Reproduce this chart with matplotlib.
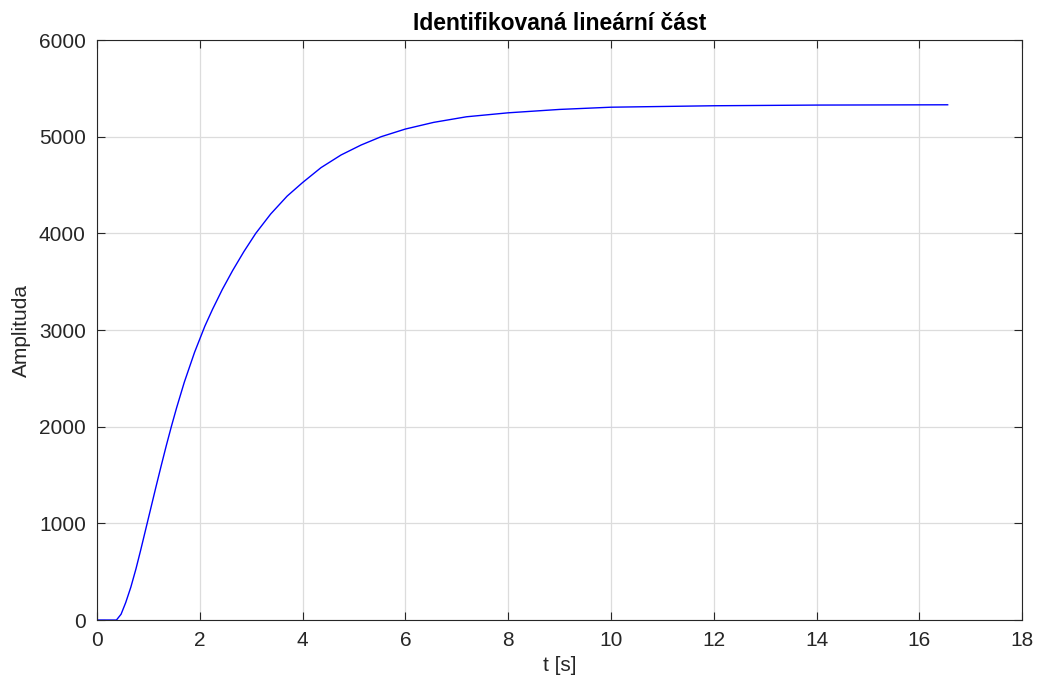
import matplotlib
matplotlib.use('Agg')
import matplotlib.pyplot as plt

# hodnoty
t = [0, 0.38, 0.47, 0.56, 0.66, 0.76, 0.85, 0.95, 1.05, 1.15, 1.25, 1.35,
     1.45, 1.55, 1.70, 1.90, 2.10, 2.25, 2.44, 2.64, 2.86, 3.09, 3.38,
     3.70, 4.0, 4.36, 4.75, 5.14, 5.53, 6.0, 6.55, 7.19, 8.0, 9.0, 10.0,
     12.0, 14.0, 16.55]
y = [0, 0, 60, 180, 340, 530, 720, 940, 1160, 1380, 1595, 1805,
     2005, 2195, 2460, 2770, 3040, 3215, 3420, 3615, 3812, 4000, 4200,
     4385, 4525, 4680, 4811, 4914, 5000, 5079, 5148, 5206, 5247, 5282, 5305,
     5320, 5327, 5330]

xticks = list(range(0, 19, 2))
yticks = list(range(0, 6001, 1000))

plt.rcParams['font.family'] = ['Liberation Sans', 'DejaVu Sans']

fig = plt.figure(figsize=(10.42, 6.9), dpi=100)
ax = fig.add_axes([0.093, 0.1014, 0.888, 0.8406])

ax.plot(t, y, color='#0000ff', linewidth=1.0)

ax.set_xlim(0, 18)
ax.set_ylim(0, 6000)
ax.set_xticks(xticks)
ax.set_yticks(yticks)
ax.grid(True, color='#dcdcdc', linewidth=0.9)
ax.set_axisbelow(True)

for s in ax.spines.values():
    s.set_color('#262626')
    s.set_linewidth(0.8)
ax.tick_params(direction='in', length=6, width=0.8, colors='#262626',
               labelsize=15, top=True, right=True, pad=8)

ax.set_xlabel('t [s]', fontsize=15, color='#262626', labelpad=4)
ax.set_ylabel('Amplituda', fontsize=15, color='#262626', labelpad=6)
ax.set_title('Identifikovaná lineární část', fontsize=16.5, fontweight='bold',
             color='black', pad=7)

fig.savefig('out.png', dpi=100)
